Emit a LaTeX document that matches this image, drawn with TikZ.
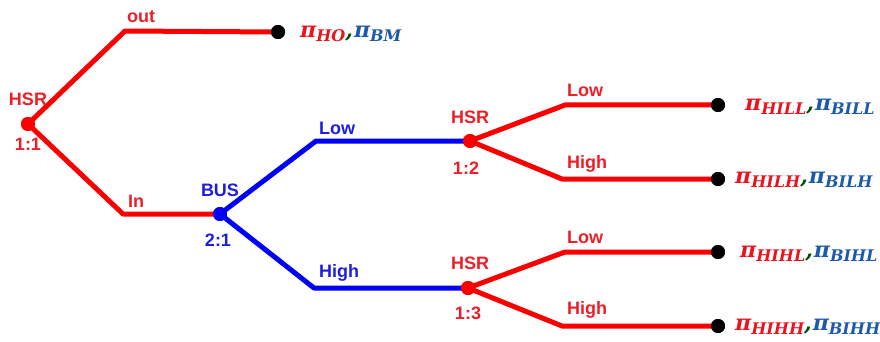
\documentclass[tikz,border=0pt]{standalone}
\usepackage{fontspec}
\setmainfont{Liberation Sans}
\newfontfamily\payfont{DejaVu Serif}
\definecolor{tred}{RGB}{250,0,0}
\definecolor{tblue}{RGB}{0,0,245}
\definecolor{pred}{RGB}{235,20,30}
\definecolor{pblue}{RGB}{30,90,170}
\definecolor{lred}{RGB}{238,30,40}
\definecolor{lblue}{RGB}{30,30,220}
\begin{document}
\begin{tikzpicture}[x=1pt,y=-1pt,
  redline/.style={draw=tred,line width=5pt,line join=round},
  blueline/.style={draw=tblue,line width=5pt,line join=round},
  rdot/.style={circle,fill=tred,inner sep=0pt,minimum size=14pt},
  bdot/.style={circle,fill=tblue,inner sep=0pt,minimum size=14pt},
  kdot/.style={circle,fill=black,inner sep=0pt,minimum size=14pt},
  rlab/.style={text=lred,font=\fontsize{18}{20}\selectfont\bfseries,inner sep=0pt},
  blab/.style={text=lblue,font=\fontsize{18}{20}\selectfont\bfseries,inner sep=0pt},
  pay/.style={anchor=west,inner sep=0pt,font=\payfont\bfseries\itshape\fontsize{22}{24}\selectfont}
]
\useasboundingbox (0,0) rectangle (880,342);
% decision nodes
\node[rdot] (n11) at (28,124) {};
\node[bdot] (bus) at (220,214) {};
\node[rdot] (n12) at (470,141) {};
\node[rdot] (n13) at (468,288) {};
% terminals
\node[kdot] (t0) at (278,32) {};
\node[kdot] (t1) at (718,105) {};
\node[kdot] (t2) at (718,179) {};
\node[kdot] (t3) at (718,252) {};
\node[kdot] (t4) at (718,326) {};
% bends
\coordinate (c0) at (125,31);
\coordinate (cin) at (123,214);
\coordinate (cl) at (316,141);
\coordinate (ch) at (314,288);
\coordinate (c1) at (565,105);
\coordinate (c2) at (562,179);
\coordinate (c3) at (565,252);
\coordinate (c4) at (562,326);
% edges
\draw[redline] (n11.center) -- (c0) -- (t0.center);
\draw[redline] (n11.center) -- (cin) -- (bus.center);
\draw[blueline] (bus.center) -- (cl) -- (n12.center);
\draw[blueline] (bus.center) -- (ch) -- (n13.center);
\draw[redline] (n12.center) -- (c1) -- (t1.center);
\draw[redline] (n12.center) -- (c2) -- (t2.center);
\draw[redline] (n13.center) -- (c3) -- (t3.center);
\draw[redline] (n13.center) -- (c4) -- (t4.center);
% redraw dots on top
\node[rdot] at (n11) {};
\node[bdot] at (bus) {};
\node[rdot] at (n12) {};
\node[rdot] at (n13) {};
\node[kdot] at (t0) {};
\node[kdot] at (t1) {};
\node[kdot] at (t2) {};
\node[kdot] at (t3) {};
\node[kdot] at (t4) {};
% node labels
\node[rlab] (l11a) at (28,99) {HSR};
\node[rlab] (l11b) at (28,144) {1:1};
\node[blab] (lbusa) at (220,190) {BUS};
\node[blab] (lbusb) at (218,240) {2:1};
\node[rlab] (l12a) at (470,117) {HSR};
\node[rlab] (l12b) at (466,168) {1:2};
\node[rlab] (l13a) at (470,263) {HSR};
\node[rlab] (l13b) at (468,313) {1:3};
% branch labels
\node[rlab,anchor=west] (bout) at (127,17) {out};
\node[rlab,anchor=west] (bin) at (128,201) {In};
\node[blab,anchor=west] (blow) at (319,128) {Low};
\node[blab,anchor=west] (bhigh) at (319,273) {High};
\node[rlab,anchor=west] (b1) at (567,90) {Low};
\node[rlab,anchor=west] (b2) at (567,164) {High};
\node[rlab,anchor=west] (b3) at (567,237) {Low};
\node[rlab,anchor=west] (b4) at (567,310) {High};
% payoffs
\newcommand{\payoff}[2]{\textcolor{pred}{π\raisebox{-0.35ex}{\fontsize{16}{18}\selectfont #1}}\textcolor{black!70!green}{,}\kern1pt\textcolor{pblue}{π\raisebox{-0.35ex}{\fontsize{16}{18}\selectfont #2}}}
\node[pay] (p0) at (300,34) {\payoff{HO}{BM}};
\node[pay] (p1) at (745,107) {\payoff{HILL}{BILL}};
\node[pay] (p2) at (735,180) {\payoff{HILH}{BILH}};
\node[pay] (p3) at (740,254) {\payoff{HIHL}{BIHL}};
\node[pay] (p4) at (735,327) {\payoff{HIHH}{BIHH}};
\end{tikzpicture}
\end{document}
